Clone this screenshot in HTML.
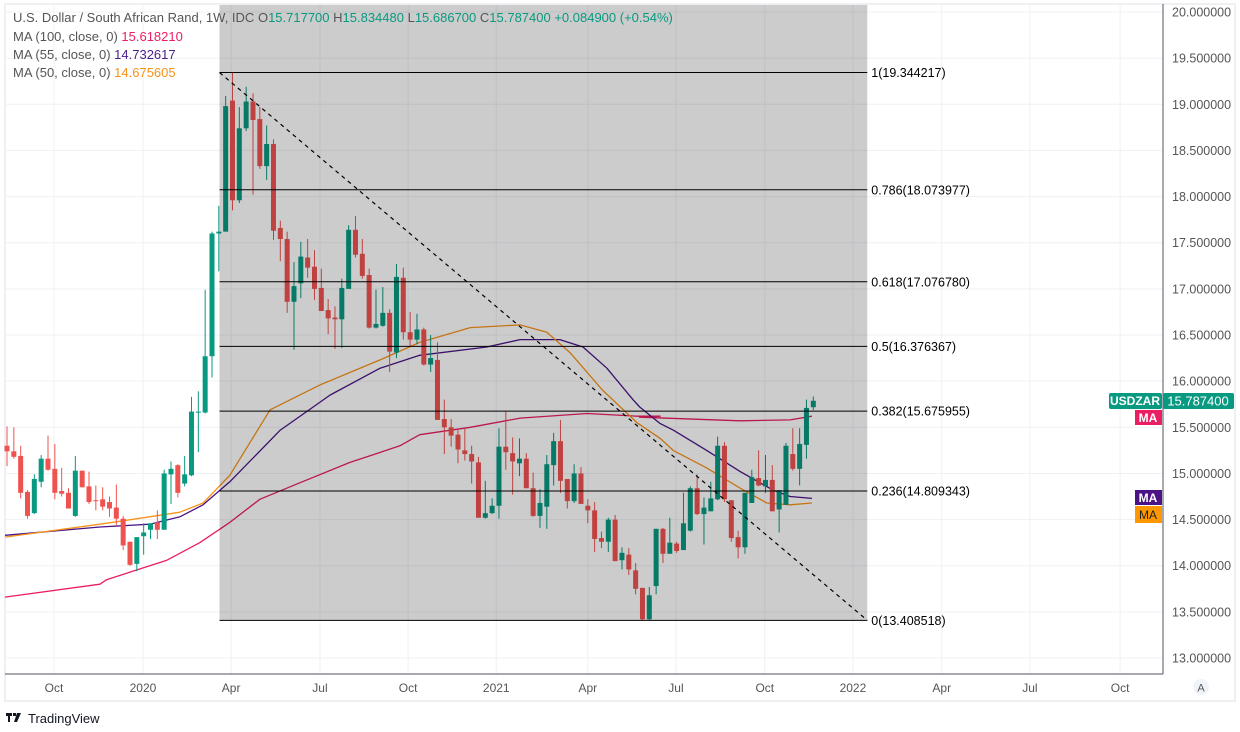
<!DOCTYPE html>
<html><head><meta charset="utf-8"><style>
body{margin:0;background:#fff;width:1240px;height:732px;overflow:hidden;font-family:"Liberation Sans",sans-serif}
svg{display:block}
</style></head><body>
<svg id="chart" width="1240" height="732" xmlns="http://www.w3.org/2000/svg" font-family="Liberation Sans, sans-serif">
<rect x="5" y="4" width="1230" height="697" fill="none" stroke="#e8ebf0" stroke-width="1.5"/>
<g id="grid"></g>
<g id="ma"></g>
<g id="candles"></g>
<rect id="fibrect" fill="#000" fill-opacity="0.2"/>
<g id="fib"></g>
<line x1="1163" y1="4" x2="1163" y2="674" stroke="#50535e" stroke-width="1"/>
<line x1="5" y1="674" x2="1163" y2="674" stroke="#50535e" stroke-width="1"/>
<g id="yaxis"></g>
<g id="xaxis"></g>
<g font-size="13" fill="#555">
<text x="13" y="22">U.S. Dollar / South African Rand, 1W, IDC <tspan fill="#555"> O</tspan><tspan fill="#089981">15.717700</tspan><tspan> H</tspan><tspan fill="#089981">15.834480</tspan><tspan> L</tspan><tspan fill="#089981">15.686700</tspan><tspan> C</tspan><tspan fill="#089981">15.787400</tspan><tspan fill="#089981"> +0.084900 (+0.54%)</tspan></text>
<text x="13" y="41">MA (100, close, 0) <tspan fill="#e91e63">15.618210</tspan></text>
<text x="13" y="59">MA (55, close, 0) <tspan fill="#4a1f8c">14.732617</tspan></text>
<text x="13" y="77">MA (50, close, 0) <tspan fill="#f7931a">14.675605</tspan></text>
</g>
<g font-size="12" font-weight="bold">
<rect x="1109" y="393" width="53" height="16" rx="2" fill="#089981"/>
<text x="1135" y="405" fill="#fff" text-anchor="middle">USDZAR</text>
<rect x="1163" y="393" width="71" height="16" rx="2" fill="#089981"/>
<text x="1198" y="405.5" fill="#fff" text-anchor="middle" font-size="13" font-weight="normal">15.787400</text>
<rect x="1135" y="410" width="27" height="15" fill="#e91e63"/>
<text x="1148" y="422" fill="#fff" text-anchor="middle">MA</text>
<rect x="1135" y="490" width="27" height="15" fill="#4a1486"/>
<text x="1148" y="502" fill="#fff" text-anchor="middle">MA</text>
<rect x="1135" y="506" width="27" height="17" fill="#ff9800"/>
<text x="1148" y="519" fill="#222" text-anchor="middle" font-weight="normal">MA</text>
</g>
<circle cx="1201" cy="687" r="8" fill="#f0f3fa"/>
<text x="1201" y="691.5" font-size="11" fill="#555" text-anchor="middle">A</text>
<g>
<path d="M6 713h6v3h-2v6h-2v-6H6z M13 713h3v3h-3z M17 713h4l-4 9h-3z" fill="#131722"/>
<text x="28" y="723" font-size="13" fill="#131722">TradingView</text>
</g>
</svg>
<script>
// week-indexed OHLC data
const opens=[15.30,15.24,15.19,14.80,14.57,14.91,15.16,15.05,14.81,14.79,14.54,15.03,14.86,14.71,14.72,14.69,14.63,14.51,14.26,14.02,14.32,14.39,14.47,14.39,14.99,15.09,14.89,14.98,15.66,15.66,16.27,17.60,17.62,19.04,17.96,18.74,19.03,18.84,18.33,18.57,17.66,17.54,16.86,17.06,17.34,17.24,17.01,16.77,16.69,16.67,17.00,17.64,17.38,17.15,16.58,16.60,16.74,16.31,17.12,16.53,16.45,16.56,16.18,16.23,15.59,15.50,15.42,15.25,15.21,15.12,14.52,14.57,14.65,15.29,15.22,15.11,15.16,14.84,14.54,14.64,15.09,15.35,14.94,14.70,15.00,14.65,14.60,14.30,14.26,14.50,14.06,14.12,13.95,13.76,13.42,13.78,14.40,14.13,14.24,14.17,14.38,14.84,14.56,14.59,14.72,15.30,14.71,14.31,14.20,14.68,14.95,14.86,14.93,14.61,14.66,15.21,15.05,15.31,15.7177];
const highs=[15.51,15.50,15.30,14.82,14.99,15.20,15.41,15.32,15.06,14.84,15.19,15.03,15.02,14.87,14.85,14.75,14.88,14.54,14.26,14.31,14.46,14.46,14.60,15.04,15.13,15.10,15.19,15.83,15.89,16.99,17.62,17.90,19.09,19.34,18.97,19.19,19.12,18.97,18.77,18.62,17.74,17.62,17.29,17.51,17.54,17.42,17.22,16.89,16.81,17.11,17.69,17.79,17.54,17.22,16.99,17.02,16.78,17.27,17.23,16.75,16.73,16.58,16.50,16.42,15.80,15.59,15.47,15.50,15.30,15.18,14.92,14.73,15.49,15.67,15.39,15.38,15.22,15.01,14.83,15.20,15.44,15.58,14.94,15.10,15.07,14.72,14.69,14.37,14.52,14.55,14.20,14.19,14.03,13.76,13.77,14.40,14.41,14.52,14.26,14.79,14.86,14.99,14.74,14.91,15.40,15.34,14.71,14.38,14.79,15.04,15.25,15.20,15.09,14.82,15.33,15.49,15.49,15.80,15.8345];
const lows=[15.08,15.16,14.73,14.51,14.56,14.85,15.03,14.72,14.75,14.62,14.53,14.85,14.67,14.60,14.60,14.53,14.44,14.17,13.998,13.94,14.12,14.29,14.29,14.39,14.67,14.74,14.86,14.97,15.23,15.65,16.04,17.19,17.62,17.85,17.93,18.71,18.02,18.30,18.18,17.53,17.30,16.74,16.34,16.90,17.12,16.88,16.76,16.51,16.35,16.36,17.00,17.34,17.11,16.57,16.57,16.59,16.10,16.25,16.45,16.38,16.40,16.17,16.10,15.58,15.21,15.29,15.11,15.14,14.89,14.52,14.51,14.56,14.51,15.04,14.77,14.97,14.84,14.53,14.41,14.40,14.87,14.79,14.62,14.68,14.67,14.46,14.15,14.19,14.15,14.05,13.96,13.90,13.69,13.41,13.41,13.69,14.03,14.13,14.14,14.17,14.37,14.55,14.23,14.59,14.71,14.69,14.26,14.08,14.13,14.68,14.86,14.79,14.59,14.36,14.66,15.03,14.87,15.16,15.6867];
const closes=[15.24,15.18,14.79,14.54,14.94,15.16,15.04,14.79,14.78,14.62,15.03,14.85,14.69,14.70,14.64,14.62,14.51,14.22,14.01,14.31,14.36,14.46,14.39,15.00,15.05,14.79,14.99,15.67,15.67,16.27,17.60,17.62,18.98,17.96,18.74,19.03,18.83,18.33,18.57,17.63,17.54,16.86,17.03,17.35,17.23,17.00,16.76,16.68,16.67,17.01,17.64,17.37,17.14,16.58,16.62,16.74,16.32,17.13,16.53,16.45,16.56,16.18,16.25,15.58,15.50,15.41,15.26,15.21,15.13,14.52,14.57,14.65,15.29,15.23,15.13,15.16,14.84,14.54,14.68,15.10,15.35,14.92,14.70,15.00,14.67,14.60,14.29,14.26,14.50,14.05,14.14,13.96,13.75,13.42,13.68,14.40,14.13,14.25,14.16,14.46,14.84,14.56,14.63,14.73,15.30,14.72,14.30,14.20,14.79,14.96,14.87,14.93,14.59,14.82,15.30,15.05,15.32,15.71,15.7874];
// moving averages sampled at week index
const ma100Idx=[-1,13.6,14.6,23.4,28.2,32.6,37,42.9,50.2,57.5,60.4,67.8,75.1,84.9,92.2,95.6,92.6,107.3,114.6,117.8];
const ma100Val=[13.66,13.80,13.85,14.06,14.25,14.47,14.72,14.90,15.12,15.30,15.42,15.50,15.60,15.65,15.62,15.62,15.61,15.57,15.58,15.62];
const ma55Idx=[-1,13.6,20.9,25.3,28.7,32.6,40,47.3,54.6,60.4,70.2,75.1,80.9,84.3,87.8,91.6,92.6,95.6,97.5,102.4,107.3,112.1,114.6,117.8];
const ma55Val=[14.33,14.42,14.45,14.53,14.66,14.91,15.47,15.85,16.14,16.28,16.37,16.45,16.45,16.37,16.14,15.80,15.72,15.54,15.47,15.25,15.02,14.82,14.75,14.73];
const ma50Idx=[-1,13.6,20.9,25.3,28.7,32.6,38.5,45.8,54.6,60.4,67.8,75.1,79,82.4,87.2,92.2,95.6,97.5,102.4,107.3,111.2,114.6,117.8];
const ma50Val=[14.31,14.45,14.53,14.58,14.68,14.98,15.69,15.96,16.23,16.42,16.58,16.61,16.53,16.31,15.90,15.55,15.38,15.25,15.06,14.84,14.68,14.66,14.68];
const fibRatios=["0","0.236","0.382","0.5","0.618","0.786","1"];
const fibPrices=[13.408518,14.809343,15.675955,16.376367,17.076780,18.073977,19.344217];
const fibStartIdx=31.1, fibEndIdx=125.9;
const yTicks=[13,13.5,14,14.5,15,15.5,16,16.5,17,17.5,18,18.5,19,19.5,20];
const xTickLabels=["Oct","2020","Apr","Jul","Oct","2021","Apr","Jul","Oct","2022","Apr","Jul","Oct"];
const xTickIdx=[6.88,19.9,32.8,45.8,58.7,71.6,85.0,97.9,110.9,123.8,136.8,149.7,162.9];

const NS="http://www.w3.org/2000/svg";
const X=i=>7+6.833*i;
const Y=p=>12+(20-p)*92.29;
function mk(tag,parent,attrs){const e=document.createElementNS(NS,tag);for(const k in attrs)e.setAttribute(k,attrs[k]);parent.appendChild(e);return e;}

const grid=document.getElementById('grid');
yTicks.forEach(v=>{
  const l=mk('line',grid,{x1:5,x2:1163,y1:Y(v),y2:Y(v),stroke:'#eef1f5'});
  
  
});
xTickIdx.forEach(i=>{
  const l=mk('line',grid,{x1:X(i),x2:X(i),y1:4,y2:674,stroke:'#eef1f5'});
  
  
});

const yax=document.getElementById('yaxis');
yTicks.forEach(v=>{
  const t=mk('text',yax,{x:1172,y:Y(v)+4.5,'font-size':12.5,fill:'#555'});
  t.textContent=v.toFixed(6);
  
  
});
const xax=document.getElementById('xaxis');
xTickLabels.forEach((s,k)=>{
  const t=mk('text',xax,{x:X(xTickIdx[k]),y:692,'font-size':12,fill:'#555','text-anchor':'middle'});
  t.textContent=s;
  
  
});

const mag=document.getElementById('ma');
function maLine(idx,val,color,name){
  const d=idx.map((i,k)=>(k?'L':'M')+Math.max(5,X(i)).toFixed(1)+' '+Y(val[k]).toFixed(1)).join(' ');
  const p=mk('path',mag,{d:d,fill:'none',stroke:color,'stroke-width':1.3,'stroke-linejoin':'round'});
  
  
}
maLine(ma100Idx,ma100Val,'#e91e63','ma100-line');
maLine(ma55Idx,ma55Val,'#4a1486','ma55-line');
maLine(ma50Idx,ma50Val,'#f7931a','ma50-line');

const cg=document.getElementById('candles');
closes.forEach((c,i)=>{
  const o=opens[i],up=c>=o,col=up?'#089981':'#ef5350';
  const g=mk('g',cg,{});
  
  
  const x=X(i);
  mk('line',g,{x1:x,x2:x,y1:Y(highs[i]),y2:Y(lows[i]),stroke:col,'stroke-width':1});
  const top=Y(Math.max(o,c)),bot=Y(Math.min(o,c));
  mk('rect',g,{x:x-2.5,y:top,width:5,height:Math.max(1,bot-top),fill:col});
});

const fr=document.getElementById('fibrect');
const fx1=X(fibStartIdx),fx2=X(fibEndIdx);
fr.setAttribute('x',fx1);fr.setAttribute('y',5);fr.setAttribute('width',fx2-fx1);fr.setAttribute('height',Y(fibPrices[0])-5);
const fg=document.getElementById('fib');
fibPrices.forEach((p,k)=>{
  const l=mk('line',fg,{x1:fx1,x2:fx2,y1:Y(p),y2:Y(p),stroke:'#000','stroke-width':1});
  
  
  const t=mk('text',fg,{x:fx2+4,y:Y(p)+4.5,'font-size':12.5,fill:'#000'});
  t.textContent=fibRatios[k]+'('+p.toFixed(6)+')';
  
  
});
const tl=mk('line',fg,{x1:fx1,y1:Y(fibPrices[6]),x2:fx2,y2:Y(fibPrices[0]),stroke:'#000','stroke-width':1.2,'stroke-dasharray':'4 4'});


</script>
</body></html>
